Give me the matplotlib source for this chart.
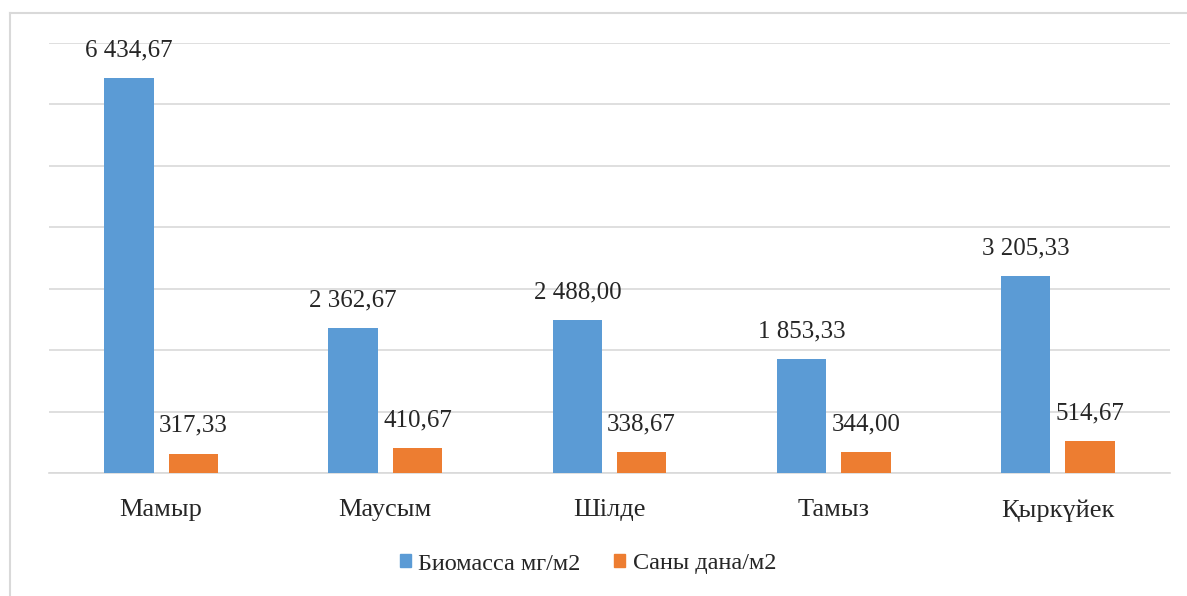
import numpy as np
import matplotlib
matplotlib.use("Agg")
from matplotlib import pyplot as plt
from matplotlib.lines import Line2D

# data
months = ["Мамыр", "Маусым", "Шілде", "Тамыз", "Қыркүйек"]
biomass = [6434.67, 2362.67, 2488.00, 1853.33, 3205.33]
count = [317.33, 410.67, 338.67, 344.00, 514.67]
series_names = ["Биомасса мг/м2", "Саны дана/м2"]

blue = "#5B9BD5"
orange = "#ED7D31"
grid_col = "#D9D9D9"

plt.rcParams["font.family"] = ["Liberation Serif", "DejaVu Serif"]

def fmt(v):
    # 6434.67 -> "6 434,67"
    s = f"{v:,.2f}"
    return s.replace(",", " ").replace(".", ",")

fig = plt.figure(figsize=(11.87, 5.96), dpi=100)
ax = fig.add_axes([49/1187, 1 - 473/596, 1121/1187, 430/596])

x = np.arange(len(months))
w = 0.22
gap = 0.067
b1 = ax.bar(x - (w + gap)/2, biomass, w, color=blue, zorder=3)
b2 = ax.bar(x + (w + gap)/2, count, w, color=orange, zorder=3)

ax.bar_label(b1, labels=[fmt(v) for v in biomass], padding=12, fontsize=18, color="#262626")
ax.bar_label(b2, labels=[fmt(v) for v in count], padding=12, fontsize=18, color="#262626")

ax.set_xlim(-0.5, len(months) - 0.5)
ax.set_ylim(0, 7000)
ax.set_yticks(np.arange(0, 7001, 1000))
ax.yaxis.grid(True, color=grid_col, linewidth=1.2, zorder=0)
ax.set_yticklabels([])
ax.tick_params(axis="y", length=0)
ax.tick_params(axis="x", length=0, pad=19, labelsize=19, labelcolor="#262626")
ax.set_xticks(x)
ax.set_xticklabels(months)
for sp in ["top", "right", "left"]:
    ax.spines[sp].set_visible(False)
ax.spines["bottom"].set_color(grid_col)
ax.spines["bottom"].set_linewidth(1.2)

# legend
handles = [plt.Rectangle((0, 0), 1, 1, color=blue), plt.Rectangle((0, 0), 1, 1, color=orange)]
fig.legend(handles, series_names, loc="center", bbox_to_anchor=(588/1187, 1 - 564/596),
           ncol=2, frameon=False, fontsize=17.5, handlelength=0.45, handleheight=0.45,
           handletextpad=0.3, columnspacing=1.4, labelcolor="#262626")

# outer chart border (top and left visible in the reference)
fig.add_artist(Line2D([10/1187, 1.0], [1 - 13/596, 1 - 13/596], color=grid_col, linewidth=1.5))
fig.add_artist(Line2D([10/1187, 10/1187], [0.0, 1 - 13/596], color=grid_col, linewidth=1.5))

fig.savefig("out.png", dpi=100)
